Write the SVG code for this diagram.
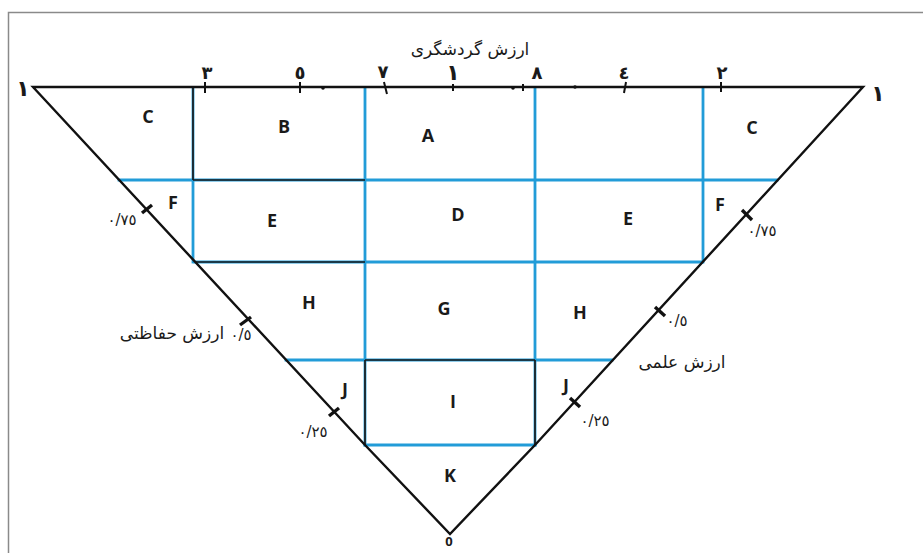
<svg xmlns="http://www.w3.org/2000/svg" width="923" height="553" viewBox="0 0 923 553">
<style>
.frame{fill:none;stroke:#8a8a8a;stroke-width:1.5}
.edge{fill:none;stroke:#111;stroke-width:2.4;stroke-linejoin:miter}
.blue{fill:none;stroke:#229cd8;stroke-width:2.8;stroke-linecap:square}
.dark{fill:none;stroke:#1a1a1a;stroke-width:1.7}
.tick{fill:none;stroke:#111;stroke-width:2}
.tickb{fill:none;stroke:#111;stroke-width:3.4}
.lbl{font-family:"Open Sans","DejaVu Sans",sans-serif;font-weight:bold;font-size:18px;fill:#1a1a1a;text-anchor:middle}
.fa{font-family:"DejaVu Sans",sans-serif;font-size:17px;fill:#1a1a1a;text-anchor:middle}
.num{font-family:"DejaVu Sans",sans-serif;font-weight:bold;font-size:18px;fill:#1a1a1a;text-anchor:middle}
.big{font-family:"DejaVu Sans",sans-serif;font-weight:bold;font-size:22px;fill:#1a1a1a;text-anchor:middle}
.sm{font-family:"DejaVu Sans",sans-serif;font-size:15px;fill:#1a1a1a;text-anchor:middle}
</style>
<rect width="923" height="553" fill="#ffffff"/>
<path class="frame" d="M8.5,560 L8.5,12.5 L930,12.5"/>

<g id="connectors">
  <!-- blue grid -->
  <line class="blue" x1="119" y1="180" x2="777" y2="180"/>
  <line class="blue" x1="195" y1="262" x2="702" y2="262"/>
  <line class="blue" x1="286" y1="360" x2="612" y2="360"/>
  <line class="blue" x1="365" y1="445" x2="535" y2="445"/>
  <line class="blue" x1="193" y1="88" x2="193" y2="262"/>
  <line class="blue" x1="365" y1="88" x2="365" y2="445"/>
  <line class="blue" x1="535" y1="88" x2="535" y2="445"/>
  <line class="blue" x1="703" y1="88" x2="703" y2="262"/>
  <!-- dark overlays -->
  <line class="dark" x1="193" y1="88" x2="193" y2="180"/>
  <line class="dark" x1="193" y1="180" x2="365" y2="180"/>
  <line class="dark" x1="195" y1="262" x2="365" y2="262"/>
  <line class="dark" x1="365" y1="360" x2="535" y2="360"/>
  <line class="dark" x1="365" y1="360" x2="365" y2="445"/>
  <line class="dark" x1="535" y1="360" x2="535" y2="445"/>
  <!-- triangle -->
  <path class="edge" d="M33,87 L863,87 L535,445 L450,534 L365,445 Z"/>
  <!-- top ticks -->
  <line class="tick" x1="205" y1="82" x2="205" y2="93"/>
  <line class="tick" x1="300" y1="82" x2="300" y2="93"/>
  <circle cx="323" cy="88" r="1.8" fill="#111"/>
  <line class="tick" x1="384" y1="82" x2="387" y2="94"/>
  <line class="tick" x1="453" y1="84" x2="453" y2="91"/>
  <circle cx="513" cy="88" r="1.8" fill="#111"/>
  <line class="tick" x1="523" y1="84" x2="523" y2="91"/>
  <circle cx="575" cy="87" r="1.8" fill="#111"/>
  <line class="tick" x1="626" y1="82" x2="624" y2="93"/>
  <line class="tick" x1="721" y1="82" x2="721" y2="92"/>
  <!-- side ticks -->
  <line class="tickb" x1="142" y1="213" x2="152" y2="205"/>
  <line class="tickb" x1="240" y1="325" x2="251" y2="317"/>
  <line class="tickb" x1="329" y1="416" x2="339" y2="408"/>
  <line class="tickb" x1="742" y1="210" x2="752" y2="220"/>
  <line class="tickb" x1="655" y1="307" x2="665" y2="316"/>
  <line class="tickb" x1="570" y1="398" x2="580" y2="407"/>
</g>

<g id="axis-labels">
  <text class="fa" x="470" y="55">ارزش گردشگری</text>
  <text class="big" x="23" y="96">١</text>
  <text class="big" x="878" y="101">١</text>
  <text class="num" x="207" y="79">٣</text>
  <text class="num" x="300" y="79">٥</text>
  <text class="num" x="383" y="78">٧</text>
  <text class="big" x="453" y="80">١</text>
  <text class="num" x="537" y="79">٨</text>
  <text class="num" x="624" y="79">٤</text>
  <text class="num" x="722" y="79">٢</text>
  <text class="sm" x="122" y="225">٠/٧٥</text>
  <text class="sm" x="241" y="340">٠/٥</text>
  <text class="fa" x="172" y="339">ارزش حفاظتی</text>
  <text class="sm" x="313" y="437">٠/٢٥</text>
  <text class="sm" x="762" y="236">٠/٧٥</text>
  <text class="sm" x="677" y="326">٠/٥</text>
  <text class="fa" x="682" y="368">ارزش علمی</text>
  <text class="sm" x="595" y="426">٠/٢٥</text>
  <text class="lbl" x="449" y="546" style="font-size:13px">0</text>
</g>

<g id="region-C-left"><text class="lbl" x="148" y="123">C</text></g>
<g id="region-B"><text class="lbl" x="284" y="133">B</text></g>
<g id="region-A"><text class="lbl" x="428" y="142">A</text></g>
<g id="region-C-right"><text class="lbl" x="752" y="134">C</text></g>
<g id="region-F-left"><text class="lbl" x="173" y="209">F</text></g>
<g id="region-E-left"><text class="lbl" x="272" y="227">E</text></g>
<g id="region-D"><text class="lbl" x="458" y="221">D</text></g>
<g id="region-E-right"><text class="lbl" x="628" y="225">E</text></g>
<g id="region-F-right"><text class="lbl" x="720" y="211">F</text></g>
<g id="region-H-left"><text class="lbl" x="309" y="309">H</text></g>
<g id="region-G"><text class="lbl" x="444" y="315">G</text></g>
<g id="region-H-right"><text class="lbl" x="580" y="319">H</text></g>
<g id="region-J-left"><text class="lbl" x="345" y="396">J</text></g>
<g id="region-I"><text class="lbl" x="453" y="408">I</text></g>
<g id="region-J-right"><text class="lbl" x="566" y="392">J</text></g>
<g id="region-K"><text class="lbl" x="450" y="482">K</text></g>
</svg>
